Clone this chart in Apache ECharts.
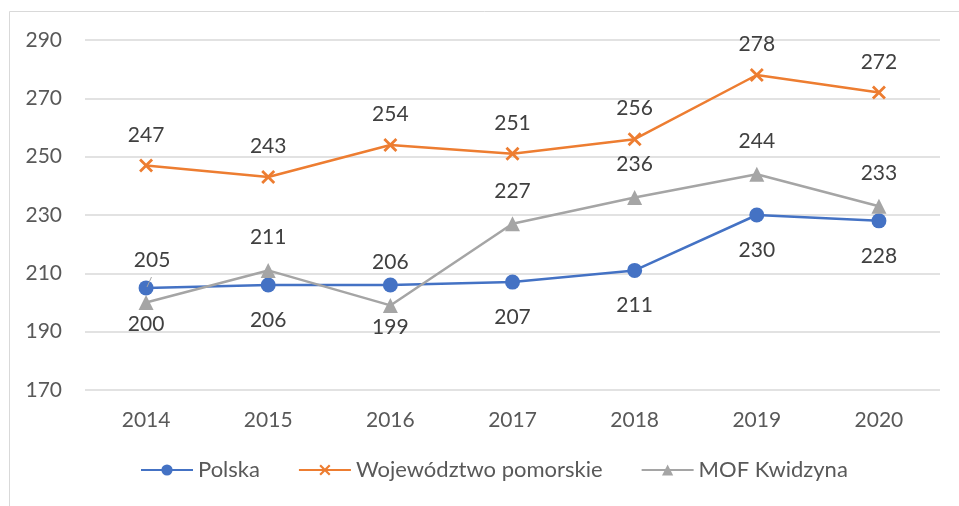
<!DOCTYPE html>
<html><head><meta charset="utf-8">
<script src="https://cdn.jsdelivr.net/npm/echarts@6/dist/echarts.min.js"></script>
<style>html,body{margin:0;padding:0;background:#fff}#c{width:959px;height:506px}</style>
</head><body><div id="c"></div>
<script>
const years = ['2014','2015','2016','2017','2018','2019','2020'];
const polska = [205, 206, 206, 207, 211, 230, 228];
const pomorskie = [247, 243, 254, 251, 256, 278, 272];
const mof = [200, 211, 199, 227, 236, 244, 233];
const yTicks = {min:170, max:290, interval:20};

const FONT = 'Lato';
const FS = 21;
const labelBase = {show:true, fontFamily:FONT, fontSize:FS, color:'#404040'};
const xPath = 'path://M0,1.4L1.4,0L5,3.6L8.6,0L10,1.4L6.4,5L10,8.6L8.6,10L5,6.4L1.4,10L0,8.6L3.6,5Z';

const polskaData = polska.map((v,i)=>{
  let lab;
  if(i===0) lab = {position:'top', distance:10, offset:[6,0]};
  else if(i===2) lab = {position:'top', distance:5};
  else lab = {position:'bottom', distance:17};
  return {value:v, label:lab};
});
const mofData = mof.map((v,i)=>{
  let lab;
  if(i===0 || i===2) lab = {position:'bottom', distance:4};
  else lab = {position:'top', distance:15};
  return {value:v, label:lab};
});

const chart = echarts.init(document.getElementById('c'));
chart.setOption({
  animation:false,
  textStyle:{fontFamily:FONT},
  graphic:[
    {type:'rect', shape:{x:9.5,y:11.5,width:960,height:500}, style:{fill:'none', stroke:'#d9d9d9', lineWidth:1}, z:-1},
    {type:'line', shape:{x1:151.5,y1:277,x2:147,y2:287}, style:{stroke:'#a6a6a6', lineWidth:1}, z:100}
  ],
  grid:{left:85, right:19, top:40, bottom:116},
  legend:{
    bottom:20, left:135, itemWidth:52, itemHeight:14, itemGap:38,
    textStyle:{fontFamily:FONT, fontSize:22, color:'#595959'},
    data:['Polska','Województwo pomorskie','MOF Kwidzyna']
  },
  xAxis:{type:'category', data:years, boundaryGap:true,
    axisLine:{show:false}, axisTick:{show:false},
    axisLabel:{fontFamily:FONT, fontSize:FS, color:'#595959', margin:20}},
  yAxis:{type:'value', min:yTicks.min, max:yTicks.max, interval:yTicks.interval,
    axisLine:{show:false}, axisTick:{show:false},
    axisLabel:{fontFamily:FONT, fontSize:FS, color:'#595959', margin:23},
    splitLine:{lineStyle:{color:'#d9d9d9', width:1.5}}},
  series:[
    {name:'Polska', type:'line', data:polskaData, symbol:'circle', symbolSize:15,
      lineStyle:{color:'#4472C4', width:2.5}, itemStyle:{color:'#4472C4'}, label:labelBase},
    {name:'Województwo pomorskie', type:'line', data:pomorskie, symbol:xPath, symbolSize:14,
      lineStyle:{color:'#ED7D31', width:2.5}, itemStyle:{color:'#ED7D31'},
      label:Object.assign({}, labelBase, {position:'top', distance:13})},
    {name:'MOF Kwidzyna', type:'line', data:mofData, symbol:'triangle', symbolSize:15,
      lineStyle:{color:'#A5A5A5', width:2.5}, itemStyle:{color:'#A5A5A5'}, label:labelBase}
  ]
});
</script></body></html>
